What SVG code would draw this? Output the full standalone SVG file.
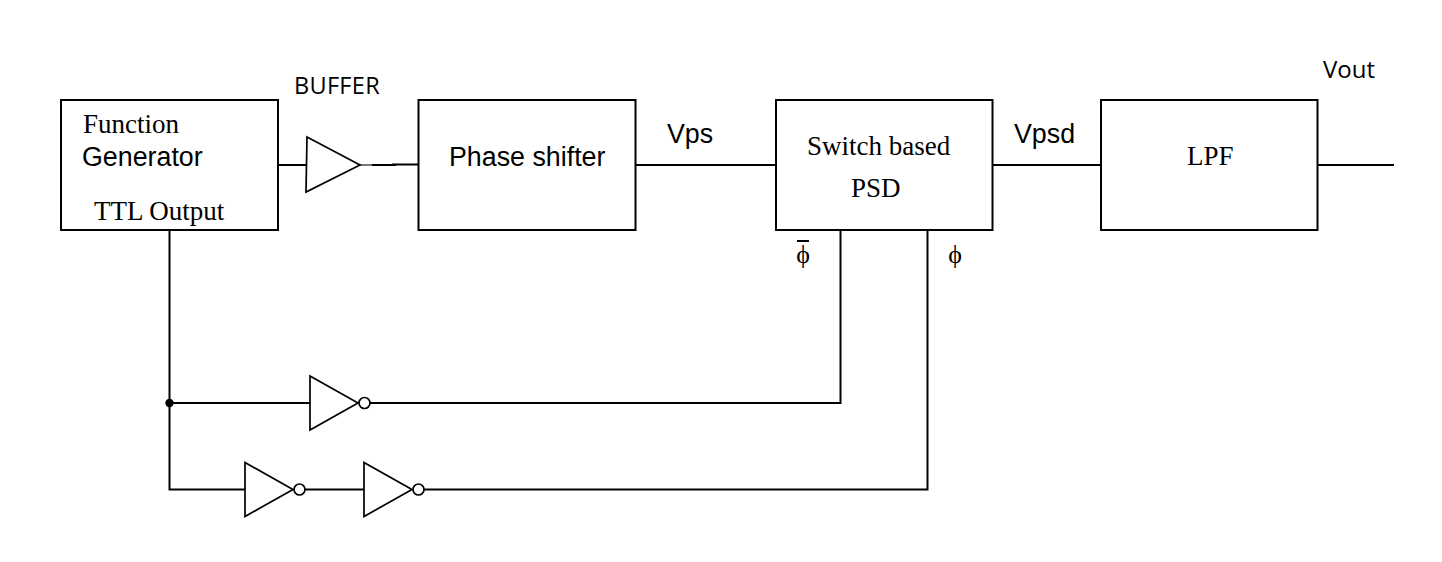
<svg xmlns="http://www.w3.org/2000/svg" width="1442" height="562" viewBox="0 0 1442 562">
<style>
.b{fill:#fff;stroke:#000;stroke-width:2}
.w{fill:none;stroke:#000;stroke-width:2}
.g{fill:#fff;stroke:#000;stroke-width:1.7;stroke-linejoin:miter}
.a{font-family:"Liberation Sans",Arial,sans-serif;fill:#000;font-size:26.800px}
.t{font-family:"Liberation Serif","Times New Roman",serif;fill:#000;font-size:27px}
.c{font-family:"Open Sans","Noto Sans",sans-serif;fill:#000}
.p{font-family:"Liberation Serif","Times New Roman",serif;fill:#000;font-size:26px;text-anchor:middle}
</style>
<defs>
<g id="inv"><path class="g" d="M0 -27L48 0L0 27Z"/><circle class="g" cx="54.500" cy="0" r="5.500"/></g>
</defs>
<rect width="1442" height="562" fill="#fff"/>
<g id="connectors">
<path class="w" d="M278 165H306"/>
<path d="M360 165H374" fill="none" stroke="#777" stroke-width="2"/>
<path class="w" d="M372 165H396M392 164.500H418"/>
<path class="w" d="M635 165H776"/>
<path class="w" d="M992 165H1101"/>
<path class="w" d="M1317 165H1394"/>
<path class="w" d="M169.500 230V489.500H245"/>
<path class="w" d="M169.500 403H310"/>
<path class="w" d="M370 403H840.500V230"/>
<path class="w" d="M304.500 489.500H364"/>
<path class="w" d="M424 489.500H927.500V230"/>
<circle cx="169.500" cy="403" r="4.200" fill="#000"/>
</g>
<g id="function-generator">
<rect class="b" x="61" y="100" width="217" height="130"/>
<text class="t" x="83" y="132.500">Function</text>
<text class="a" x="82" y="165.500">Generator</text>
<text class="t" x="94" y="219.500">TTL Output</text>
</g>
<g id="buffer">
<path class="g" d="M307 137L360 165L306 192Z"/>
<text class="c" x="294" y="94" font-size="23.500" letter-spacing="0.300">BUFFER</text>
</g>
<g id="phase-shifter">
<rect class="b" x="418.500" y="100" width="217" height="130"/>
<text class="a" x="449" y="165.500">Phase shifter</text>
</g>
<g id="vps"><text class="a" x="667" y="143">Vps</text></g>
<g id="psd">
<rect class="b" x="776" y="100" width="216.500" height="130"/>
<text class="t" x="807" y="154.500">Switch based</text>
<text class="t" x="851" y="197">PSD</text>
</g>
<g id="vpsd"><text class="a" x="1014" y="143">Vpsd</text></g>
<g id="lpf">
<rect class="b" x="1101" y="100" width="216.500" height="130"/>
<text class="t" x="1187" y="165">LPF</text>
</g>
<g id="vout"><text class="c" x="1323" y="78" font-size="24">Vout</text></g>
<g id="phi-bar">
<path class="w" d="M797 241H809"/>
<text class="p" x="803" y="263">ϕ</text>
</g>
<g id="phi"><text class="p" x="955" y="263">ϕ</text></g>
<g id="inverter-1"><use href="#inv" x="310" y="403"/></g>
<g id="inverter-2"><use href="#inv" x="245" y="489.500"/></g>
<g id="inverter-3"><use href="#inv" x="364" y="489.500"/></g>
</svg>
